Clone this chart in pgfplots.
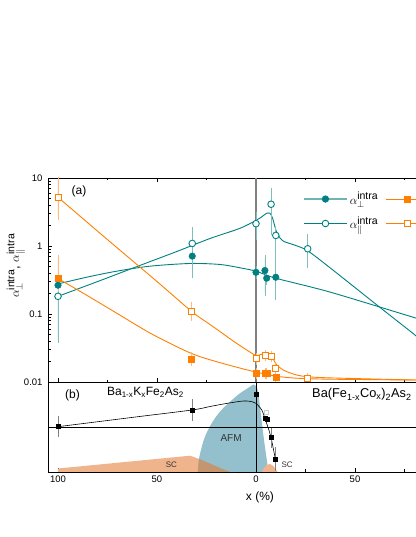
\documentclass[border=0pt]{standalone}
\usepackage{pgfplots}
\pgfplotsset{compat=1.18}
\usepackage{fontspec}
\setmainfont{Liberation Sans}
\definecolor{tealc}{RGB}{0,128,128}
\definecolor{teallt}{RGB}{128,190,190}
\definecolor{tealleg}{RGB}{110,180,180}
\definecolor{orc}{RGB}{255,128,0}
\definecolor{orlt}{RGB}{255,185,125}
\definecolor{afm}{RGB}{148,191,204}
\definecolor{scc}{RGB}{240,180,140}
\definecolor{ovl}{RGB}{195,150,112}
\newcommand{\intra}{\mbox{\fontsize{10.5}{11}\selectfont intra}}
\begin{document}
\begin{tikzpicture}
\useasboundingbox (0,0) rectangle (415pt,537pt);
\pgfplotsset{
 myax/.style={scale only axis, width=406pt, xmin=-105.05, xmax=100,
   axis line style={line width=0.8pt}, major tick length=4pt, minor tick length=2.5pt,
   tick style={black, line width=0.6pt},
   xtick={-100,-50,0,50}, minor xtick={-75,-25,25,75},
   tick label style={font=\fontsize{9.5}{10}\selectfont}}
}
\begin{axis}[myax, at={(48pt,155pt)}, anchor=south west, height=204pt,
  ymode=log, ymin=0.01, ymax=10,
  ytick={0.01,0.1,1,10}, yticklabels={0.01,0.1,1,10},
  minor ytick={0.02,0.03,0.04,0.05,0.06,0.07,0.08,0.09,0.2,0.3,0.4,0.5,0.6,0.7,0.8,0.9,2,3,4,5,6,7,8,9},
  xticklabels={}, ytick pos=left, yticklabel style={xshift=-2pt},
  ylabel={$\alpha_{\perp}^{\intra}$, $\alpha_{\parallel}^{\intra}$},
  every axis y label/.style={at={([xshift=-32pt]axis description cs:0,0.57)}, rotate=90, anchor=center, font=\fontsize{13}{14}\selectfont},
  legend image code/.code={\draw[mark repeat=2,mark phase=2,#1] plot coordinates {(0pt,0pt) (21.5pt,0pt) (43pt,0pt)};},
  legend columns=2,
  legend style={at={(axis cs:22.2,7.1)}, anchor=north west, draw=none, fill=none,
    font=\fontsize{13}{14}\selectfont, row sep=7pt,
    /tikz/every even column/.append style={column sep=5pt}},
  legend cell align=left]
\addlegendimage{tealleg, line width=1.6pt, mark=*, mark size=3.3pt, mark options={draw=tealc, fill=tealc, line width=0.6pt}}
\addlegendentry{$\alpha_{\perp}^{\intra}$}
\addlegendimage{orc, line width=0.9pt, mark=square*, mark size=3pt, mark options={draw=orc, fill=orc}}
\addlegendentry{}
\addlegendimage{tealc, line width=0.9pt, mark=*, mark size=3.3pt, mark options={draw=tealc, fill=white}}
\addlegendentry{$\alpha_{\parallel}^{\intra}$}
\addlegendimage{orc, line width=0.9pt, mark=square*, mark size=3pt, mark options={draw=orc, fill=white}}
\addlegendentry{}
% vertical line
\addplot[gray, line width=1.5pt, forget plot] coordinates {(0,0.01) (0,10)};
% fit curves
\addplot[tealc, line width=0.9pt, smooth, tension=0.5, forget plot] coordinates {
 (-100,0.182) (-80,0.30) (-60,0.50) (-40,0.83) (-23.2,1.29) (-8.1,1.82) (0,2.38) (3,2.7) (5.5,3.05) (7,3.05) (8.3,2.6) (9.5,1.95) (10.8,1.5) (13.8,1.18) (20,1.02) (26.1,0.85) (37.4,0.478) (62.6,0.125) (80.3,0.049) (90,0.028)};
\addplot[tealc, line width=0.9pt, smooth, tension=0.5, forget plot] coordinates {
 (-100,0.277) (-85,0.35) (-70.4,0.426) (-53.5,0.505) (-33.3,0.553) (-18.2,0.535) (-8.1,0.478) (0,0.426) (10,0.336) (37.4,0.21) (80.3,0.088) (90,0.073)};
\addplot[orc, line width=0.9pt, smooth, tension=0.5, forget plot] coordinates {
 (-100,5.2) (-75,1.24) (-50,0.30) (-32.5,0.109) (-25,0.076) (-18.2,0.0553) (-11.5,0.040) (-5,0.030) (0,0.0245) (2.5,0.0255) (4.5,0.0258) (6.5,0.025) (7.9,0.0236) (9.2,0.0205) (10.5,0.0178) (13,0.0155) (15.5,0.0142) (20,0.0128) (25.6,0.012) (37.4,0.0115) (80,0.0107) (90,0.0106)};
\addplot[orc, line width=0.9pt, smooth, tension=0.5, forget plot] coordinates {
 (-100,0.332) (-86.7,0.198) (-70.4,0.103) (-53.5,0.0524) (-36.7,0.0297) (-28.3,0.0236) (-18,0.0192) (-8,0.0160) (0,0.0140) (10,0.0122) (20,0.0114) (37,0.0110) (80,0.0107) (90,0.0107)};
% data
\addplot[only marks, mark=*, mark size=3.3pt, draw=tealc, fill=tealc, forget plot,
  error bars/.cd, y dir=both, y explicit,
  error bar style={teallt, line width=0.8pt}, error mark options={teallt, mark size=3pt, line width=0.8pt}]
  coordinates {(-100,0.265) +- (0,0.03) (-32.2,0.71) += (0,0.3) -= (0,0.34) (0,0.41) +- (0,0.05)
   (4.5,0.436) += (0,0.22) -= (0,0.23) (5.4,0.336) +- (0,0.04) (10,0.347) +- (0,0.1)};
\addplot[only marks, mark=*, mark size=3.3pt, draw=tealc, fill=white, line width=0.9pt, forget plot,
  error bars/.cd, y dir=both, y explicit,
  error bar style={teallt, line width=0.8pt}, error mark options={teallt, mark size=3pt, line width=0.8pt}]
  coordinates {(-100,0.182) +- (0,0.141) (-32.2,1.09) += (0,0.61) -= (0,0.68) (0,2.13) += (0,0.7) -= (0,0.79)
   (7.6,4.11) += (0,2.36) -= (0,2.52) (10,1.43) += (0,0.33) -= (0,1.25) (26.1,0.91) += (0,0.43) -= (0,0.39)};
\addplot[only marks, mark=square*, mark size=3pt, draw=orc, fill=orc, forget plot,
  error bars/.cd, y dir=both, y explicit,
  error bar style={orlt, line width=0.8pt}, error mark options={orlt, mark size=3pt, line width=0.8pt}]
  coordinates {(-100,0.332) += (0,0.34) -= (0,0.1) (-32.5,0.0219) +- (0,0.003) (0,0.0134) +- (0,0.001)
   (4.5,0.0134) +- (0,0.001) (5.5,0.0134) +- (0,0.001) (10,0.0116) +- (0,0.001)};
\addplot[only marks, mark=square*, mark size=3pt, draw=orc, fill=white, line width=0.9pt, forget plot,
  error bars/.cd, y dir=both, y explicit,
  error bar style={orlt, line width=0.8pt}, error mark options={orlt, mark size=3pt, line width=0.8pt}]
  coordinates {(-100,5.2) += (0,4.4) -= (0,2.56) (-32.5,0.109) += (0,0.025) -= (0,0.021) (0,0.0219) +- (0,0.002)
   (4.9,0.0245) +- (0,0.002) (7.6,0.0236) +- (0,0.002) (9.6,0.0156) +- (0,0.0015) (26.1,0.0111) +- (0,0.001)};
\node at (axis cs:-89.4,6.4) {\fontsize{12}{13}\selectfont (a)};
\end{axis}

\begin{axis}[myax, at={(48pt,65pt)}, anchor=south west, height=90pt,
  ymin=0, ymax=90, ytick=\empty, xtick pos=left,
  xticklabels={100,50,0,50},
  xlabel={x (\%)},
  every axis x label/.style={at={(axis cs:2,0)}, anchor=north, yshift=-16pt, font=\fontsize{12}{13}\selectfont}]
\addplot[draw=none, fill=scc] coordinates {(-100,0) (-100,3.5) (-33.3,16.3) (-30,14) (-26.6,11.3) (-21.6,7) (-16.5,2.7) (-13,0)} \closedcycle;
\addplot[draw=none, fill=afm, smooth, tension=0.5] coordinates {(-29.4,0) (-29.2,3) (-28.6,15.3) (-26.1,33.7) (-22.4,48.7) (-18.2,60.3) (-13.1,70.3) (-8.1,78.7) (-3,85.3) (-1.2,87.5) (0.3,85) (1.2,78.7) (2,65.3) (3.4,42) (4.5,25.3) (5.7,8.7) (6.4,0)} \closedcycle;
\addplot[draw=none, fill=ovl] coordinates {(-29.4,0) (-29.2,5) (-28.8,13.3) (-26.6,11.3) (-21.6,7) (-16.5,2.7) (-13,0)} \closedcycle;
\addplot[draw=none, fill=scc, smooth, tension=0.6] coordinates {(2.9,0) (4.2,4.5) (5.4,7) (7.1,8) (8.7,6) (10.8,0.3) (11,0)} \closedcycle;
\addplot[black, line width=0.8pt] coordinates {(-105.05,45) (100,45)};
\addplot[black, line width=0.8pt] coordinates {(0,0) (0,90)};
\addplot[black, line width=0.6pt, smooth, tension=0.5] coordinates {(-100,45.3) (-60,55.2) (-32.3,62) (-23.2,65.5) (-15,68.5) (-6.4,71) (-2,70.3) (0,68.7) (2.9,62) (4.5,53.7) (6,45) (7.6,34.3) (9.8,12.7)};
\addplot[only marks, mark=square, mark size=2pt, draw=gray!40] coordinates {(4.9,59.7)};
\addplot[only marks, mark=square*, mark size=2pt, black,
  error bars/.cd, y dir=both, y explicit,
  error bar style={gray, line width=0.6pt}, error mark options={gray, mark size=2.5pt, line width=0.6pt}]
  coordinates {(-100,45.3) +- (0,8) (-32.3,62) +- (0,8.5) (0,77.7) +- (0,0) (4.5,53.7) +- (0,0) (5.5,53) +- (0,0) (7.6,34.3) +- (0,7.5) (9.8,12.7) +- (0,9.5)};
\node at (axis cs:-92.7,77) {\fontsize{12}{13}\selectfont (b)};
\node[anchor=base west, inner sep=0pt] at (axis cs:-75.3,76) {\fontsize{12}{13}\selectfont Ba\textsubscript{1-x}K\textsubscript{x}Fe\textsubscript{2}As\textsubscript{2}};
\node[anchor=base west, inner sep=0pt] at (axis cs:28.3,74) {\fontsize{12.8}{14}\selectfont Ba(Fe\textsubscript{1-x}Co\textsubscript{x})\textsubscript{2}As\textsubscript{2}};
\node[text=black!80] at (axis cs:-12.6,34.3) {\fontsize{10}{11}\selectfont AFM};
\node[text=black!80] at (axis cs:15.7,7) {\fontsize{8}{9}\selectfont SC};
\node[text=black!80] at (axis cs:-42.7,7.7) {\fontsize{8}{9}\selectfont SC};
\end{axis}
\end{tikzpicture}
\end{document}
